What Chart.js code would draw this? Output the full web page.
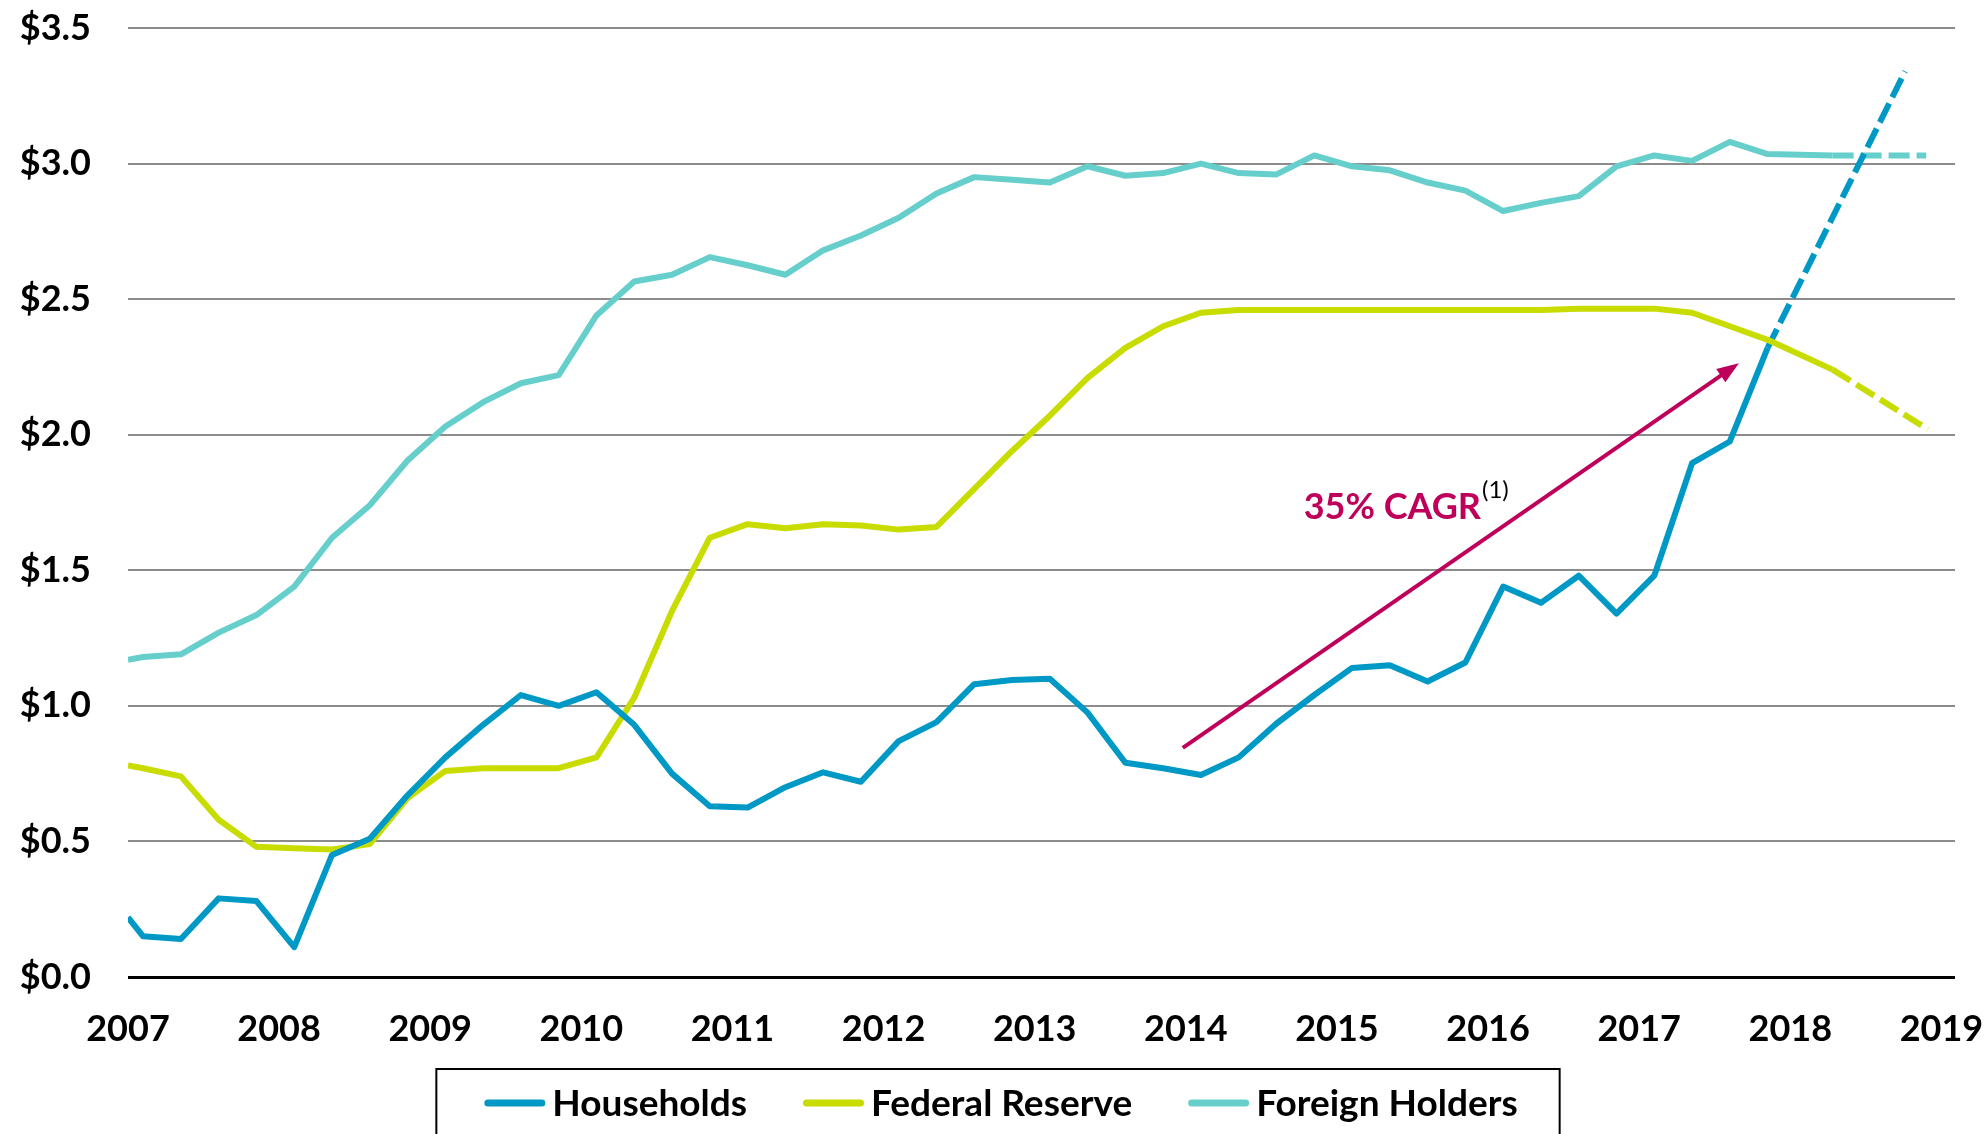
<!DOCTYPE html>
<html>
<head>
<meta charset="utf-8">
<script src="https://cdn.jsdelivr.net/npm/chart.js@4.4.1/dist/chart.umd.min.js"></script>
<style>
html, body { margin: 0; padding: 0; background: #fff; }
#wrap { width: 1984px; height: 1134px; }
</style>
</head>
<body>
<div id="wrap"><canvas id="myChart"></canvas></div>
<script>
// Quarterly observation dates (decimal years), last one is the latest reading
var quarters = [2007.0, 2007.1, 2007.35, 2007.6, 2007.85, 2008.1, 2008.35, 2008.6, 2008.85,
    2009.1, 2009.35, 2009.6, 2009.85, 2010.1, 2010.35, 2010.6, 2010.85,
    2011.1, 2011.35, 2011.6, 2011.85, 2012.1, 2012.35, 2012.6, 2012.85,
    2013.1, 2013.35, 2013.6, 2013.85, 2014.1, 2014.35, 2014.6, 2014.85,
    2015.1, 2015.35, 2015.6, 2015.85, 2016.1, 2016.35, 2016.6, 2016.85,
    2017.1, 2017.35, 2017.6, 2017.85, 2018.28];

// Holdings in $ trillions
var households = [0.22, 0.15, 0.14, 0.29, 0.28, 0.11, 0.45, 0.51, 0.67,
    0.81, 0.93, 1.04, 1.00, 1.05, 0.93, 0.75, 0.63,
    0.625, 0.70, 0.755, 0.72, 0.87, 0.94, 1.08, 1.095,
    1.10, 0.975, 0.79, 0.77, 0.745, 0.81, 0.935, 1.04,
    1.14, 1.15, 1.09, 1.16, 1.44, 1.38, 1.48, 1.34,
    1.48, 1.895, 1.975, 2.32, null];
var federalReserve = [0.78, 0.77, 0.74, 0.58, 0.48, 0.475, 0.47, 0.49, 0.66,
    0.76, 0.77, 0.77, 0.77, 0.81, 1.03, 1.35, 1.62,
    1.67, 1.655, 1.67, 1.665, 1.65, 1.66, 1.80, 1.94,
    2.07, 2.21, 2.32, 2.40, 2.45, 2.46, 2.46, 2.46,
    2.46, 2.46, 2.46, 2.46, 2.46, 2.46, 2.465, 2.465,
    2.465, 2.45, 2.40, 2.35, 2.24];
var foreignHolders = [1.17, 1.18, 1.19, 1.27, 1.335, 1.44, 1.62, 1.74, 1.905,
    2.03, 2.12, 2.19, 2.22, 2.44, 2.565, 2.59, 2.655,
    2.625, 2.59, 2.68, 2.735, 2.80, 2.89, 2.95, 2.94,
    2.93, 2.99, 2.955, 2.965, 3.0, 2.965, 2.96, 3.03,
    2.99, 2.975, 2.93, 2.90, 2.825, 2.855, 2.88, 2.99,
    3.03, 3.01, 3.08, 3.035, 3.03];

// Projections (dashed)
var householdsProjX = [2017.85, 2018.76];
var householdsProj = [2.32, 3.34];
var fedProjX = [2018.28, 2018.91];
var fedProj = [2.24, 2.02];
var foreignProjX = [2018.28, 2018.9];
var foreignProj = [3.03, 3.03];

var seriesNames = ['Households', 'Federal Reserve', 'Foreign Holders'];
var seriesColors = ['#0099C6', '#C8DC00', '#66CFCC'];

// Axis ticks
var yearTicks = [2007, 2008, 2009, 2010, 2011, 2012, 2013, 2014, 2015, 2016, 2017, 2018, 2019];
var valueTicks = [0, 0.5, 1.0, 1.5, 2.0, 2.5, 3.0, 3.5];

// CAGR annotation (data coordinates)
var arrowFrom = [2013.98, 0.845];
var arrowTo = [2017.66, 2.264];
var cagrLabel = '35% CAGR';
var cagrNote = '(1)';
var cagrAt = [2014.78, 1.69];

function toPoints(xs, ys) {
    var pts = [];
    for (var i = 0; i < xs.length; i++) {
        pts.push({ x: xs[i], y: ys[i] });
    }
    return pts;
}

function solidSet(idx, values) {
    return {
        label: seriesNames[idx],
        data: toPoints(quarters, values),
        borderColor: seriesColors[idx],
        backgroundColor: seriesColors[idx],
        borderWidth: 6,
        borderJoinStyle: 'round',
        pointRadius: 0,
        tension: 0,
        spanGaps: false
    };
}

function dashedSet(idx, xs, values) {
    return {
        label: '',
        data: toPoints(xs, values),
        borderColor: seriesColors[idx],
        borderWidth: 6,
        borderDash: [21, 7],
        pointRadius: 0,
        tension: 0
    };
}

// Draws the arrow and the CAGR label
var cagrPlugin = {
    id: 'cagrArrow',
    afterDatasetsDraw: function(chart) {
        var ctx = chart.ctx, xs = chart.scales.x, ys = chart.scales.y;
        var x1 = xs.getPixelForValue(arrowFrom[0]), y1 = ys.getPixelForValue(arrowFrom[1]);
        var x2 = xs.getPixelForValue(arrowTo[0]), y2 = ys.getPixelForValue(arrowTo[1]);
        var ang = Math.atan2(y2 - y1, x2 - x1);
        var head = 22, half = 8;
        var c = Math.cos(ang), s = Math.sin(ang);
        ctx.save();
        ctx.strokeStyle = '#BE005A';
        ctx.fillStyle = '#BE005A';
        ctx.lineWidth = 4;
        ctx.beginPath();
        ctx.moveTo(x1, y1);
        ctx.lineTo(x2 - head * 0.8 * c, y2 - head * 0.8 * s);
        ctx.stroke();
        ctx.beginPath();
        ctx.moveTo(x2, y2);
        ctx.lineTo(x2 - head * c + half * s, y2 - head * s - half * c);
        ctx.lineTo(x2 - head * c - half * s, y2 - head * s + half * c);
        ctx.closePath();
        ctx.fill();

        var lx = xs.getPixelForValue(cagrAt[0]), ly = ys.getPixelForValue(cagrAt[1]);
        ctx.font = 'bold 36px Lato';
        ctx.textAlign = 'left';
        ctx.textBaseline = 'alphabetic';
        ctx.fillText(cagrLabel, lx, ly);
        var w = ctx.measureText(cagrLabel).width;
        ctx.fillStyle = '#000';
        ctx.font = '24px Lato';
        ctx.fillText(cagrNote, lx + w + 1, ly - 21);
        ctx.restore();
    }
};

// Boxed legend at the bottom
var boxLegendPlugin = {
    id: 'boxLegend',
    afterDraw: function(chart) {
        var ctx = chart.ctx;
        var sampleW = 61, textGap = 7, itemGap = 56;
        var cy = 1103;
        ctx.save();
        ctx.font = 'bold 37px Lato';
        var widths = seriesNames.map(function(n) { return ctx.measureText(n).width; });
        var total = 0;
        widths.forEach(function(w) { total += sampleW + textGap + w; });
        total += itemGap * (seriesNames.length - 1);
        var x = chart.width / 2 + 9 - total / 2;
        var boxLeft = x - 48, boxRight = x + total + 42;
        ctx.strokeStyle = '#000';
        ctx.lineWidth = 2;
        ctx.strokeRect(boxLeft, 1069, boxRight - boxLeft, 120);
        ctx.textBaseline = 'middle';
        ctx.textAlign = 'left';
        for (var i = 0; i < seriesNames.length; i++) {
            ctx.strokeStyle = seriesColors[i];
            ctx.lineWidth = 7;
            ctx.lineCap = 'round';
            ctx.beginPath();
            ctx.moveTo(x + 3.5, cy);
            ctx.lineTo(x + sampleW - 3.5, cy);
            ctx.stroke();
            ctx.fillStyle = '#000';
            ctx.fillText(seriesNames[i], x + sampleW + textGap, cy + 1);
            x += sampleW + textGap + widths[i] + itemGap;
        }
        ctx.restore();
    }
};

var ctx = document.getElementById('myChart').getContext('2d');
var myChart = new Chart(ctx, {
    type: 'line',
    data: {
        datasets: [
            solidSet(0, households),
            solidSet(1, federalReserve),
            solidSet(2, foreignHolders),
            dashedSet(0, householdsProjX, householdsProj),
            dashedSet(1, fedProjX, fedProj),
            dashedSet(2, foreignProjX, foreignProj)
        ]
    },
    options: {
        responsive: true,
        maintainAspectRatio: false,
        animation: false,
        layout: { padding: { top: 28, right: 29, bottom: 87, left: 0 } },
        plugins: {
            legend: { display: false },
            tooltip: { enabled: false }
        },
        scales: {
            x: {
                type: 'linear',
                min: 2007,
                max: 2019.09,
                afterFit: function(scale) {
                    scale.height = 70;
                    scale.paddingLeft = 0;
                    scale.paddingRight = 0;
                },
                afterBuildTicks: function(scale) {
                    scale.ticks = yearTicks.map(function(v) { return { value: v }; });
                },
                grid: { display: false, drawTicks: false },
                border: { display: false },
                ticks: {
                    autoSkip: false,
                    maxRotation: 0,
                    padding: 31,
                    color: '#000',
                    font: { family: 'Lato', weight: 'bold', size: 36 },
                    callback: function(value) { return String(value); }
                }
            },
            y: {
                min: 0,
                max: 3.5,
                afterFit: function(scale) {
                    scale.width = 128;
                    scale.paddingTop = 0;
                    scale.paddingBottom = 0;
                },
                afterBuildTicks: function(scale) {
                    scale.ticks = valueTicks.map(function(v) { return { value: v }; });
                },
                grid: {
                    drawTicks: false,
                    color: function(c) { return c.tick && c.tick.value === 0 ? '#000' : '#8C8C8C'; },
                    lineWidth: function(c) { return c.tick && c.tick.value === 0 ? 3 : 2; }
                },
                border: { display: false },
                ticks: {
                    padding: 37,
                    color: '#000',
                    font: { family: 'Lato', weight: 'bold', size: 36 },
                    callback: function(value) { return '$' + Number(value).toFixed(1); }
                }
            }
        }
    },
    plugins: [cagrPlugin, boxLegendPlugin]
});
</script>
</body>
</html>
